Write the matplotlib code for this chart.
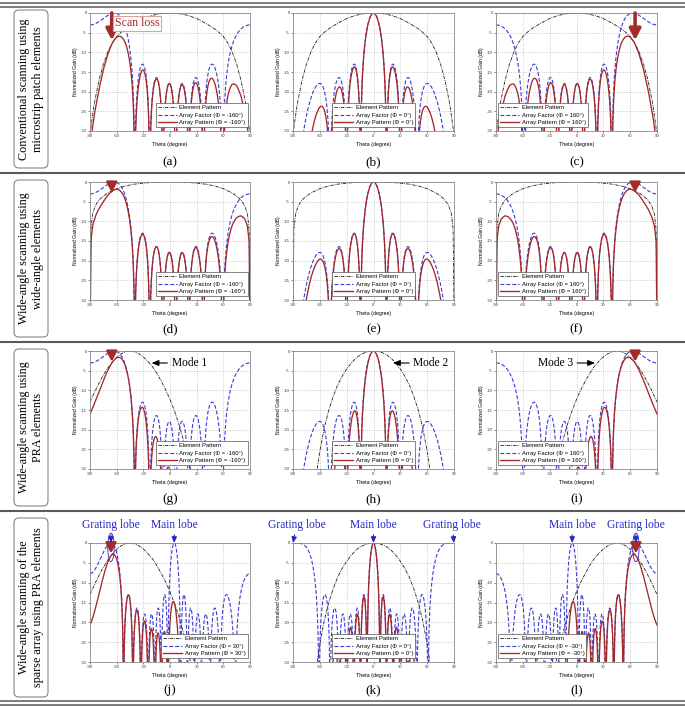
import numpy as np
import matplotlib
matplotlib.use("Agg")
import matplotlib.pyplot as plt
from matplotlib.lines import Line2D
from matplotlib.patches import FancyBboxPatch, Circle

plt.rcParams['font.family'] = ['Liberation Sans', 'DejaVu Sans']
plt.rcParams['axes.unicode_minus'] = False

# ---------------- element patterns (angle deg, normalized gain dB) ----------------
patch_theta = [-90, -88, -85, -80, -75, -70, -65, -60, -55, -50, -40, -30, -20, -10, 0,
               10, 20, 30, 40, 50, 55, 60, 65, 70, 75, 80, 85, 88, 90]
patch_gain = [-31, -27.5, -22.8, -17.2, -13, -9.9, -7.6, -6.0, -4.9, -4.0, -2.6, -1.4, -0.6, -0.15, 0,
              -0.15, -0.6, -1.4, -2.6, -4.0, -4.9, -6.0, -7.6, -9.9, -13, -17.2, -22.8, -27.5, -31]
wide_theta = [-90, -89, -87, -84, -80, -75, -70, -60, -50, -40, -30, -20, -10, 0,
              10, 20, 30, 40, 50, 60, 70, 75, 80, 84, 87, 89, 90]
wide_gain = [-40, -12, -8, -6, -4.6, -3.6, -2.8, -1.7, -1.0, -0.55, -0.3, -0.1, -0.02, 0,
             -0.02, -0.1, -0.3, -0.55, -1.0, -1.7, -2.8, -3.6, -4.6, -6, -8, -12, -40]
mode1_theta = [-90, -85, -80, -75, -70, -65, -60, -55, -50, -45, -40, -35, -30, -25, -20,
               -15, -10, -5, 0, 5, 10, 15, 20, 23, 26]
mode1_gain = [-13, -10.5, -8.2, -6.1, -4.3, -2.8, -1.6, -0.7, -0.2, 0, -0.2, -0.7, -1.5, -2.6, -3.9,
              -5.6, -7.6, -9.8, -12.3, -15.2, -18.6, -22.5, -27, -30, -34]
mode2_theta = [-66, -63, -60, -55, -50, -45, -40, -35, -30, -25, -20, -15, -10, -5, 0,
               5, 10, 15, 20, 25, 30, 35, 40, 45, 50, 55, 60, 63, 66]
mode2_gain = [-36, -30, -25.5, -19.5, -15, -11.5, -8.6, -6.4, -4.6, -3.1, -1.9, -1.0, -0.45, -0.1, 0,
              -0.1, -0.45, -1.0, -1.9, -3.1, -4.6, -6.4, -8.6, -11.5, -15, -19.5, -25.5, -30, -36]
mode3_theta = [-26, -23, -20, -15, -10, -5, 0, 5, 10, 15, 20, 25, 30, 35, 40,
               45, 50, 55, 60, 65, 70, 75, 80, 85, 90]
mode3_gain = [-34, -30, -27, -22.5, -18.6, -15.2, -12.3, -9.8, -7.6, -5.6, -3.9, -2.6, -1.5, -0.7, -0.2,
              0, -0.2, -0.7, -1.6, -2.8, -4.3, -6.1, -8.2, -10.5, -13]

# ---------------- array factors: lobe nulls, lobe peak angles, lobe peak levels ----------------
# 8-element array, phase -160 / 0 / +160 deg
af_m160_nulls = [-120.6, -39.7, -22.9, -8.0, 6.4, 21.2, 37.7, 59.4, 140.3]
af_m160_peaks = [-62.7, -30.9, -15.3, -0.8, 13.7, 29.1, 47.4, 117.3]
af_m160_levels = [0, -13, -16.4, -17.9, -17.9, -16.4, -13, 0]
af_0_nulls = [-90, -48.6, -30, -14.5, 14.5, 30, 48.6, 90]
af_0_peaks = [-60, -38.5, -21.5, 0, 21.5, 38.5, 60]
af_0_levels = [-17.9, -16.4, -13, 0, -13, -16.4, -17.9]
af_p160_nulls = [-140.3, -59.4, -37.7, -21.2, -6.4, 8.0, 22.9, 39.7, 120.6]
af_p160_peaks = [-117.3, -47.4, -29.1, -13.7, 0.8, 15.3, 30.9, 62.7]
af_p160_levels = [0, -13, -16.4, -17.9, -17.9, -16.4, -13, 0]
# sparse array, phase +30 / 0 / -30 deg
saf_p30_nulls = [-106.6, -52.3, -41.8, -32.8, -24.6, -17.0, -9.6, -2.4, 12.0, 19.5, 27.3, 35.7,
                 45.1, 56.4, 73.4, 127.7]
saf_p30_peaks = [-66.4, -46.8, -37.2, -28.6, -20.7, -13.2, -6.0, 4.8, 15.7, 23.3, 31.4, 40.2,
                 50.4, 63.6, 113.6]
saf_p30_levels = [0, -13, -16.4, -17.9, -17.9, -16.4, -13, 0, -13, -16.4, -17.9, -17.9, -16.4, -13, 0]
saf_0_nulls = [-119.0, -61.0, -48.6, -38.7, -30, -22.0, -14.5, -7.2, 7.2, 14.5, 22.0, 30, 38.7,
               48.6, 61.0, 119.0]
saf_0_peaks = [-90, -54.3, -43.4, -34.2, -25.9, -18.2, -10.8, 0, 10.8, 18.2, 25.9, 34.2, 43.4, 54.3, 90]
saf_0_levels = [0, -13, -16.4, -17.9, -17.9, -16.4, -13, 0, -13, -16.4, -17.9, -17.9, -16.4, -13, 0]
saf_m30_nulls = [-127.7, -73.4, -56.4, -45.1, -35.7, -27.3, -19.5, -12.0, 2.4, 9.6, 17.0, 24.6,
                 32.8, 41.8, 52.3, 106.6]
saf_m30_peaks = [-113.6, -63.6, -50.4, -40.2, -31.4, -23.3, -15.7, -4.8, 6.0, 13.2, 20.7, 28.6,
                 37.2, 46.8, 66.4]
saf_m30_levels = [0, -13, -16.4, -17.9, -17.9, -16.4, -13, 0, -13, -16.4, -17.9, -17.9, -16.4, -13, 0]

x_ticks = [-90, -60, -30, 0, 30, 60, 90]
y_ticks = [0, -5, -10, -15, -20, -25, -30]
sub_tags = ['(a)', '(b)', '(c)', '(d)', '(e)', '(f)', '(g)', '(h)', '(i)', '(j)', '(k)', '(l)']
row_titles = ['Conventional scanning using\nmicrostrip patch elements',
              'Wide-angle scanning using\nwide-angle elements',
              'Wide-angle scanning using\nPRA elements',
              'Wide-angle scanning of the\nsparse array using PRA elements']
phi_rows = [['-160', '0', '160'], ['-160', '0', '160'], ['-160', '0', '160'], ['30', '0', '-30']]

# ---------------- helpers ----------------
W, H = 685, 707
fig = plt.figure(figsize=(W / 100, H / 100), dpi=100)

C_EL, C_AF, C_AP = '#1a1a1a', '#3a3ad8', '#a3282b'
SERIF = ['Liberation Serif', 'DejaVu Serif']


def u_of(t):
    t = np.asarray(t, dtype=float)
    inside = np.sin(np.radians(np.clip(t, -90, 90)))
    outside = np.sign(t) * (2.0 - np.sin(np.radians(np.abs(t))))
    return np.where(np.abs(t) <= 90, inside, outside)


def lobes_db(theta, nulls, peaks, levels):
    u = u_of(theta)
    out = np.full_like(theta, -80.0)
    for a, p, b, lv in zip(nulls[:-1], peaks, nulls[1:], levels):
        ua, up, ub = float(u_of(a)), float(u_of(p)), float(u_of(b))
        m = (u >= ua) & (u <= ub)
        s = np.where(u <= up, 0.5 * (u - ua) / (up - ua), 0.5 + 0.5 * (u - up) / (ub - up))
        if lv > -6:
            f = np.abs(np.sinc(2 * s - 1))
        else:
            f = np.abs(np.sin(np.pi * s))
        val = lv + 20 * np.log10(np.maximum(f, 1e-5))
        out = np.where(m, val, out)
    return out


cols_px = [(90, 250), (293, 454), (496, 657)]
rows_px = [(13, 131), (182, 300), (351, 469), (543, 662)]
tag_y = [162, 329, 499, 690]

elements = [(patch_theta, patch_gain), (wide_theta, wide_gain),
            None, None]
mode_rows = [(mode1_theta, mode1_gain), (mode2_theta, mode2_gain), (mode3_theta, mode3_gain)]
af_rows = [[(af_m160_nulls, af_m160_peaks, af_m160_levels), (af_0_nulls, af_0_peaks, af_0_levels),
            (af_p160_nulls, af_p160_peaks, af_p160_levels)]] * 3 + \
          [[(saf_p30_nulls, saf_p30_peaks, saf_p30_levels), (saf_0_nulls, saf_0_peaks, saf_0_levels),
            (saf_m30_nulls, saf_m30_peaks, saf_m30_levels)]]
leg_pos = [('lower right', (0.985, 0.03)), ('lower center', (0.5, 0.03)), ('lower left', (0.012, 0.03))]

theta = np.linspace(-90, 90, 3601)
axes = {}

for r in range(4):
    for c in range(3):
        x0, x1 = cols_px[c]
        y0, y1 = rows_px[r]
        ax = fig.add_axes([x0 / W, 1 - y1 / H, (x1 - x0) / W, (y1 - y0) / H])
        axes[(r, c)] = ax
        el = elements[r] if r < 2 else mode_rows[c]
        nl, pk, lv = af_rows[r][c]
        af = lobes_db(theta, nl, pk, lv)
        ap = af + np.interp(theta, el[0], el[1])
        ax.plot(el[0], np.clip(el[1], -33, None), color=C_EL, lw=0.6, dashes=[4, 1.3, 1, 1.3])
        ax.plot(theta, np.clip(af, -33, None), color=C_AF, lw=0.8, dashes=[3.5, 1.8])
        ax.plot(theta, np.clip(ap, -33, None), color=C_AP, lw=0.95)
        ax.set_xlim(-90, 90)
        ax.set_ylim(-30, 0)
        ax.set_xticks(x_ticks)
        ax.set_xticklabels([str(v) for v in x_ticks])
        ax.set_yticks(y_ticks)
        ax.set_yticklabels([str(v) for v in y_ticks])
        ax.tick_params(labelsize=3.0, length=1.2, width=0.4, pad=1.2, colors='#333333')
        ax.grid(True, ls=':', color='#b0b0b0', lw=0.5)
        for sp in ax.spines.values():
            sp.set_color('#8a8a8a')
            sp.set_linewidth(0.6)
        ax.set_xlabel('Theta (degree)', fontsize=3.8, labelpad=2.5)
        ax.set_ylabel('Normalized Gain (dB)', fontsize=3.6, labelpad=2)
        phi = phi_rows[r][c]
        handles = [Line2D([], [], color=C_EL, lw=0.6, dashes=[4, 1.3, 1, 1.3]),
                   Line2D([], [], color=C_AF, lw=0.8, dashes=[3.5, 1.8]),
                   Line2D([], [], color=C_AP, lw=0.95)]
        labels = ['Element Pattern', 'Array Factor (\u03a6 = %s\u00b0)' % phi,
                  'Array Pattern (\u03a6 = %s\u00b0)' % phi]
        loc, anchor = leg_pos[c]
        lg = ax.legend(handles, labels, loc=loc, bbox_to_anchor=anchor, fontsize=4.2,
                       frameon=True, fancybox=False, framealpha=1, edgecolor='#555555',
                       borderpad=0.35, labelspacing=0.45, handlelength=3.2, handletextpad=0.5,
                       borderaxespad=0)
        lg.get_frame().set_linewidth(0.5)

# ---------------- annotations ----------------
RED_A = '#a52a2a'
BLUE_T = '#2424c8'


def red_arrow(ax, th, tip, big=False):
    if big:
        props = dict(arrowstyle='-|>,head_width=0.34,head_length=0.65', lw=2.6, color=RED_A,
                     shrinkA=0, shrinkB=0, mutation_scale=10)
    else:
        props = dict(arrowstyle='-|>,head_width=0.32,head_length=0.6', lw=1.8, color=RED_A,
                     shrinkA=0, shrinkB=0, mutation_scale=10)
    ax.annotate('', xy=(th, tip), xytext=(th, 0), arrowprops=props, annotation_clip=False)


red_arrow(axes[(0, 0)], -65.5, -6.9, big=True)
red_arrow(axes[(0, 2)], 65.5, -6.9, big=True)
axes[(0, 0)].text(-37, -2.6, 'Scan loss', ha='center', va='center', color='#b02525',
                  fontsize=8.6, family=SERIF,
                  bbox=dict(boxstyle='square,pad=0.12', fc='white', ec='#d9a3a3', lw=0.8))
for (r, c) in [(1, 0), (2, 0)]:
    red_arrow(axes[(r, c)], -65.5, -2.7)
for (r, c) in [(1, 2), (2, 2)]:
    red_arrow(axes[(r, c)], 65.5, -2.7)
red_arrow(axes[(3, 0)], -66.4, -2.6)
red_arrow(axes[(3, 2)], 66.4, -2.6)
for (r, c, th) in [(3, 0, -66.4), (3, 2, 66.4)]:
    axes[(r, c)].add_patch(Circle((th, -1.1), radius=3.6, transform=axes[(r, c)].transData,
                                  fill=False, ec=BLUE_T, lw=0.6, clip_on=False))

mode_kw = dict(fontsize=8.3, family=SERIF, va='center',
               arrowprops=dict(arrowstyle='-|>,head_width=0.25,head_length=0.6', lw=0.8,
                               color='k', shrinkA=1, shrinkB=0, mutation_scale=7))
axes[(2, 0)].annotate('Mode 1', xy=(-20.7, -3.05), xytext=(1.7, -3.05), ha='left', **mode_kw)
axes[(2, 1)].annotate('Mode 2', xy=(21.8, -3.05), xytext=(44.5, -3.05), ha='left', **mode_kw)
axes[(2, 2)].annotate('Mode 3', xy=(20.7, -3.05), xytext=(-3.9, -3.05), ha='right', **mode_kw)

lobe_kw = dict(fontsize=8.3, family=SERIF, color=BLUE_T, ha='center', va='center',
               annotation_clip=False,
               arrowprops=dict(arrowstyle='-|>,head_width=0.22,head_length=0.5', lw=0.8,
                               color=BLUE_T, shrinkA=1, shrinkB=0, mutation_scale=7))
axes[(3, 0)].annotate('Grating lobe', xy=(-66.4, 0), xytext=(-66.4, 4.6), **lobe_kw)
axes[(3, 0)].annotate('Main lobe', xy=(4.8, 0), xytext=(4.8, 4.6), **lobe_kw)
axes[(3, 1)].annotate('Grating lobe', xy=(-90, 0), xytext=(-86, 4.6), **lobe_kw)
axes[(3, 1)].annotate('Main lobe', xy=(0, 0), xytext=(0, 4.6), **lobe_kw)
axes[(3, 1)].annotate('Grating lobe', xy=(90, 0), xytext=(88, 4.6), **lobe_kw)
axes[(3, 2)].annotate('Main lobe', xy=(-4.8, 0), xytext=(-4.8, 4.6), **lobe_kw)
axes[(3, 2)].annotate('Grating lobe', xy=(66.4, 0), xytext=(66.4, 4.6), **lobe_kw)

# ---------------- frame: separators, row titles, sub-labels ----------------
ov = fig.add_axes([0, 0, 1, 1], zorder=-1)
ov.set_xlim(0, W)
ov.set_ylim(H, 0)
ov.axis('off')
for yy, lw in [(2.5, 1.1), (6.5, 1.1), (173, 1.5), (342, 1.5), (511, 1.5), (701, 1.1), (705, 1.1)]:
    ov.plot([0, W], [yy, yy], color='#5a5a5a', lw=lw, solid_capstyle='butt')

box_y = [(10, 168), (180, 337), (349, 506), (518, 697)]
for i, (b0, b1) in enumerate(box_y):
    ov.add_patch(FancyBboxPatch((14, b0), 34, b1 - b0, boxstyle='round,pad=0,rounding_size=5',
                                fc='white', ec='#777777', lw=0.7))
    ov.text(31, (b0 + b1) / 2, row_titles[i], rotation=90, ha='center', va='center',
            fontsize=8.7, family=SERIF, linespacing=1.3, multialignment='center')

for r in range(4):
    for c in range(3):
        x0, x1 = cols_px[c]
        ov.text((x0 + x1) / 2, tag_y[r], sub_tags[r * 3 + c], ha='center', va='center',
                fontsize=9.5, family=SERIF)

fig.savefig('out.png', dpi=100)
